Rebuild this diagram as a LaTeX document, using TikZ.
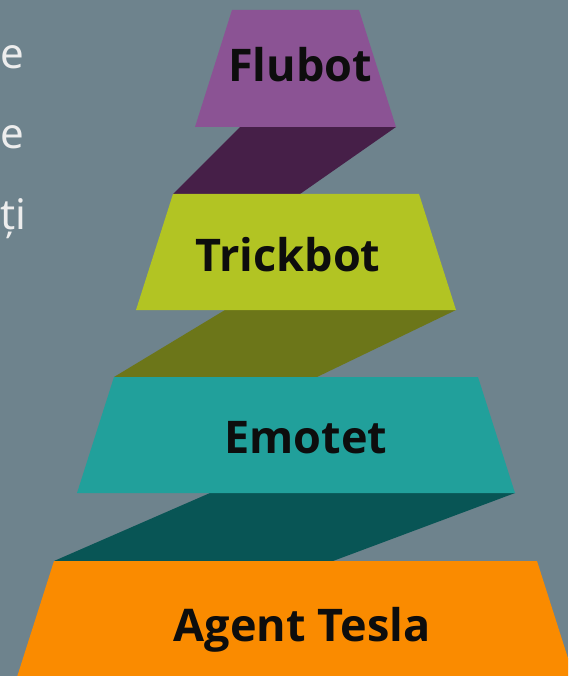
\documentclass[tikz,border=0pt]{standalone}
\usepackage{fontspec}
\setmainfont{Noto Sans}
\newfontfamily\lblfont{Open Sans}
\definecolor{bg}{HTML}{6E838D}
\definecolor{flu}{HTML}{8B5394}
\definecolor{fluD}{HTML}{461F48}
\definecolor{tri}{HTML}{B2C423}
\definecolor{triD}{HTML}{6C7619}
\definecolor{emo}{HTML}{21A09B}
\definecolor{emoD}{HTML}{085555}
\definecolor{age}{HTML}{FA8B00}
\definecolor{lbl}{HTML}{0D0D0D}
\definecolor{side}{HTML}{EDEDED}
\tikzset{
  label text/.style={anchor=base, inner sep=0pt, text=lbl, font=\lblfont\bfseries\fontsize{45}{53}\selectfont},
  side text/.style={anchor=base west, inner sep=0pt, text=side, font=\fontsize{42}{50}\selectfont},
}
\begin{document}
\begin{tikzpicture}[x=1pt,y=-1pt]
\useasboundingbox (0,0) rectangle (568,676);
\clip (0,0) rectangle (568,676);
\fill[bg] (0,0) rectangle (568,676);
% side text
\node[side text] (s1) at (0,69) {e};
\node[side text] (s2) at (0,149) {e};
\node[side text] (s3) at (0,229) {ți};
% trapezoid corners
\coordinate (f1) at (232,10);  \coordinate (f2) at (359,10);
\coordinate (f3) at (396,127); \coordinate (f4) at (195,127);
\coordinate (t1) at (173,194); \coordinate (t2) at (419,194);
\coordinate (t3) at (456,310); \coordinate (t4) at (136,310);
\coordinate (e1) at (114,377); \coordinate (e2) at (478,377);
\coordinate (e3) at (515,493); \coordinate (e4) at (77,493);
\coordinate (a1) at (54,561);  \coordinate (a2) at (537,561);
\coordinate (a3) at (574,677); \coordinate (a4) at (17,677);
% connector corners
\coordinate (c1a) at (240,127); \coordinate (c1b) at (300,194);
\coordinate (c2a) at (225,310); \coordinate (c2b) at (317,377);
\coordinate (c3a) at (210,493); \coordinate (c3b) at (333,561);
% connectors (shadows)
\fill[fluD] (c1a) -- (f3) -- (c1b) -- (t1) -- cycle;
\fill[triD] (c2a) -- (t3) -- (c2b) -- (e1) -- cycle;
\fill[emoD] (c3a) -- (e3) -- (c3b) -- (a1) -- cycle;
% trapezoids
\fill[flu] (f1) -- (f2) -- (f3) -- (f4) -- cycle;
\fill[tri] (t1) -- (t2) -- (t3) -- (t4) -- cycle;
\fill[emo] (e1) -- (e2) -- (e3) -- (e4) -- cycle;
\fill[age] (a1) -- (a2) -- (a3) -- (a4) -- cycle;
% labels
\node[label text] (lf) at (300,82) {Flubot};
\node[label text] (lt) at (288,271) {Trickbot};
\node[label text] (le) at (306,453) {Emotet};
\node[label text] (la) at (302,641) {Agent Tesla};
\end{tikzpicture}
\end{document}
